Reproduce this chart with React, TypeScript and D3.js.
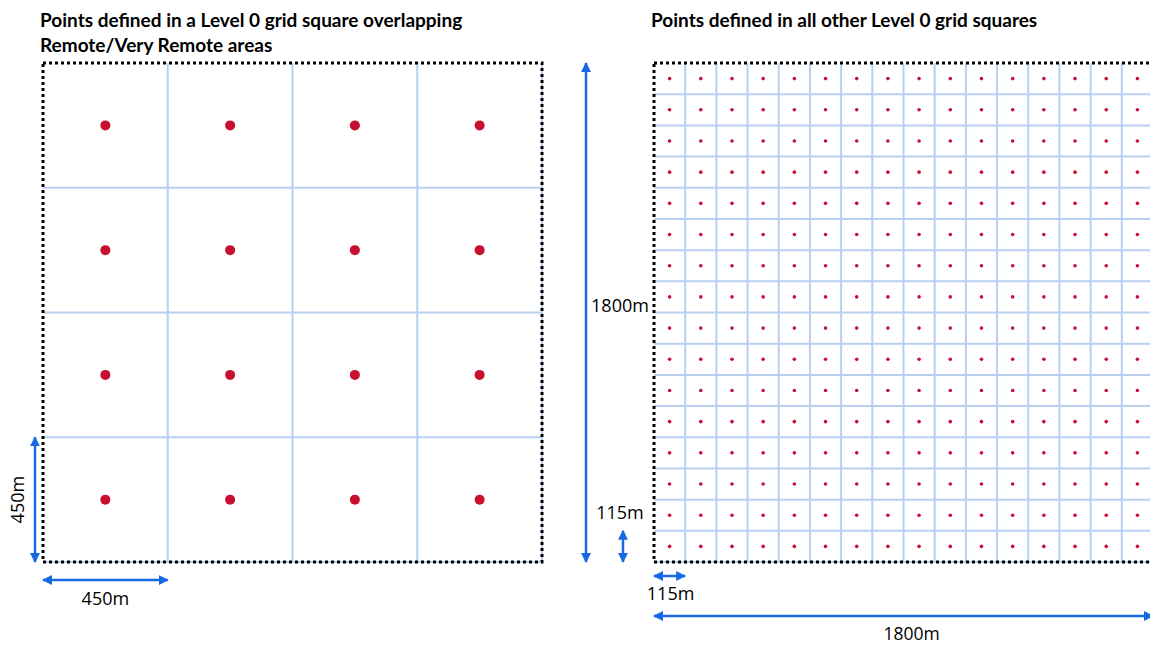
import React, { useEffect, useRef } from 'react';
import * as d3 from 'd3';

// Left panel: Level 0 square (1800m) split into 450m cells
const remoteTitle = ['Points defined in a Level 0 grid square overlapping', 'Remote/Very Remote areas'];
const remoteCellCount = 4;
const remoteCellLabel = '450m';

// Right panel: same 1800m square split into 115m cells
const otherTitle = ['Points defined in all other Level 0 grid squares'];
const otherCellCount = 16;
const otherCellLabel = '115m';
const squareLabel = '1800m';

const BLUE = '#1668e3';
const GRID = '#b8cff0';
const DOT = '#c8102e';

const App: React.FC = () => {
    const svgRef = useRef<SVGSVGElement>(null);

    useEffect(() => {
        if (!svgRef.current) return;
        const svg = d3.select(svgRef.current);
        svg.selectAll('*').remove();

        const defs = svg.append('defs');
        defs.append('marker')
            .attr('id', 'head')
            .attr('viewBox', '0 0 10 10')
            .attr('refX', 9).attr('refY', 5)
            .attr('markerWidth', 4).attr('markerHeight', 4)
            .attr('markerUnits', 'strokeWidth')
            .attr('orient', 'auto-start-reverse')
            .append('path').attr('d', 'M0,0L10,5L0,10Z').attr('fill', BLUE);

        const size = 499;
        const top = 63;

        const drawPanel = (x0: number, n: number, dotR: number, title: string[]) => {
            const band = d3.scaleBand<number>().domain(d3.range(n)).range([0, size]);
            const g = svg.append('g').attr('transform', `translate(${x0},${top})`);

            // grid lines
            g.selectAll('line.v').data(d3.range(1, n + 1)).join('line')
                .attr('class', 'v')
                .attr('x1', d => band.step() * d).attr('x2', d => band.step() * d)
                .attr('y1', 0).attr('y2', size)
                .attr('stroke', GRID).attr('stroke-width', 2);
            g.selectAll('line.h').data(d3.range(1, n + 1)).join('line')
                .attr('class', 'h')
                .attr('y1', d => band.step() * d).attr('y2', d => band.step() * d)
                .attr('x1', 0).attr('x2', size)
                .attr('stroke', GRID).attr('stroke-width', 2);

            // points at cell centres
            const cells = d3.cross(d3.range(n), d3.range(n));
            g.selectAll('circle').data(cells).join('circle')
                .attr('cx', d => band(d[0])! + band.bandwidth() / 2)
                .attr('cy', d => band(d[1])! + band.bandwidth() / 2)
                .attr('r', dotR)
                .attr('fill', DOT);

            // dotted outline
            g.append('rect')
                .attr('x', 0).attr('y', 0).attr('width', size).attr('height', size)
                .attr('fill', 'none').attr('stroke', '#000')
                .attr('stroke-width', 3).attr('stroke-dasharray', '3,3');

            svg.append('text')
                .attr('x', x0 - 3).attr('y', 27)
                .attr('font-family', 'Lato, sans-serif').attr('font-weight', 700)
                .attr('font-size', 19).attr('fill', '#000')
                .selectAll('tspan').data(title).join('tspan')
                .attr('x', x0 - 3).attr('dy', (_, i) => (i === 0 ? 0 : 25))
                .text(d => d);

            return band;
        };

        const arrow = (x1: number, y1: number, x2: number, y2: number) => {
            svg.append('line')
                .attr('x1', x1).attr('y1', y1).attr('x2', x2).attr('y2', y2)
                .attr('stroke', BLUE).attr('stroke-width', 2.5)
                .attr('marker-start', 'url(#head)').attr('marker-end', 'url(#head)');
        };

        const label = (x: number, y: number, text: string, rotate = false, size = 18) => {
            svg.append('text')
                .attr('x', x).attr('y', y)
                .attr('text-anchor', 'middle')
                .attr('font-family', '"Open Sans", sans-serif')
                .attr('font-size', size).attr('fill', '#000')
                .attr('transform', rotate ? `rotate(-90,${x},${y})` : null)
                .text(text);
        };

        // left panel
        const leftX = 43;
        const lb = drawPanel(leftX, remoteCellCount, 5, remoteTitle);
        const lc = lb.step();
        arrow(35, top + size - lc, 35, top + size);
        label(24, top + size - lc / 2, remoteCellLabel, true);
        arrow(leftX, 580, leftX + lc, 580);
        label(leftX + lc / 2, 605, remoteCellLabel);

        // right panel
        const rightX = 654;
        const rb = drawPanel(rightX, otherCellCount, 1.8, otherTitle);
        const rc = rb.step();
        arrow(586, top, 586, top + size);
        label(620, 312, squareLabel);
        arrow(623, top + size - rc, 623, top + size);
        label(620, 519, otherCellLabel);
        arrow(rightX, 576, rightX + rc, 576);
        label(rightX + rc / 2 + 1, 600, otherCellLabel);
        arrow(rightX, 616, rightX + size, 616);
        label(rightX + size / 2 + 8, 640, squareLabel, false, 17.5);
    }, []);

    return (
        <div style={{ position: 'fixed', left: 0, top: 0, width: 1150, height: 645, background: '#fff' }}>
            <svg ref={svgRef} width={1150} height={645} style={{ display: 'block' }} />
        </div>
    );
};

export default App;
